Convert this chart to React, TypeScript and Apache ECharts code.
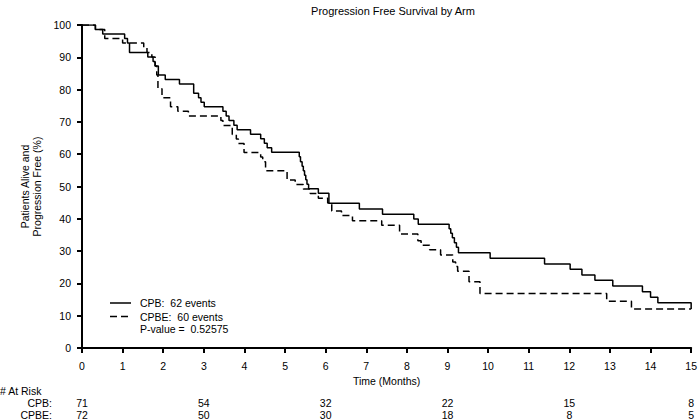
import React, { useEffect, useRef } from "react";
import * as echarts from "echarts";

const chartTitle = "Progression Free Survival by Arm";
const xAxisTitle = "Time (Months)";
const yAxisTitle = "Patients Alive and\nProgression Free (%)";

const seriesNames = ["CPB", "CPBE"];
const eventCounts = [62, 60];
const pValueText = "P-value =  0.52575";

// [time in months, percent progression free]
const cpbCurve: [number, number][] = [
  [0, 100], [0.33, 98.6], [0.51, 97.2], [1.05, 95.8], [1.12, 94.4], [1.17, 91.5],
  [1.62, 90.1], [1.75, 88.7], [1.8, 87.3], [1.88, 84.5], [2.05, 83.1], [2.4, 81.7],
  [2.75, 78.9], [2.87, 77.5], [2.93, 76.1], [3.01, 74.7], [3.47, 73.3], [3.55, 71.8],
  [3.62, 70.4], [3.74, 69.0], [3.82, 67.6], [4.15, 66.2], [4.4, 64.8], [4.49, 63.4],
  [4.56, 62.0], [4.67, 60.6], [5.35, 59.2], [5.38, 57.7], [5.42, 56.3], [5.45, 54.9],
  [5.48, 53.5], [5.51, 52.1], [5.54, 50.7], [5.58, 49.3], [5.82, 47.9], [6.08, 44.8],
  [6.83, 43.0], [7.4, 41.4], [8.17, 39.9], [8.28, 38.3], [9.04, 36.9], [9.08, 35.5],
  [9.12, 34.1], [9.17, 32.6], [9.22, 31.2], [9.27, 29.5], [10.05, 27.8], [11.39, 26.0],
  [12.02, 24.4], [12.31, 22.6], [12.63, 21.0], [13.07, 19.2], [13.8, 17.4], [14.0, 15.7],
  [14.18, 14.0], [15.0, 12.1],
];

const cpbeCurve: [number, number][] = [
  [0, 100], [0.33, 98.6], [0.56, 95.8], [1.0, 94.4], [1.52, 92.9], [1.6, 91.5],
  [1.72, 90.1], [1.8, 87.3], [1.84, 84.5], [1.87, 80.3], [1.97, 77.5], [2.18, 74.7],
  [2.36, 73.3], [2.62, 71.8], [3.42, 70.4], [3.47, 68.9], [3.7, 66.1], [3.8, 64.7],
  [3.85, 63.3], [3.99, 60.5], [4.4, 59.1], [4.45, 57.7], [4.52, 54.9], [5.05, 52.0],
  [5.25, 50.6], [5.45, 49.2], [5.62, 47.8], [5.82, 46.4], [6.05, 44.9], [6.15, 42.4],
  [6.39, 41.0], [6.66, 39.4], [7.38, 38.0], [7.82, 35.3], [8.27, 33.2], [8.35, 31.8],
  [8.56, 30.4], [8.83, 28.8], [9.13, 26.6], [9.2, 25.2], [9.25, 23.8], [9.53, 20.5],
  [9.8, 16.9], [12.92, 14.5], [13.53, 12.1], [15.0, 12.1],
];

const atRiskTitle = "# At Risk";
const atRiskTimes = [0, 3, 6, 9, 12, 15];
const cpbAtRisk = [71, 54, 32, 22, 15, 8];
const cpbeAtRisk = [72, 50, 30, 18, 8, 5];

const FONT = "'Liberation Sans', Arial, Helvetica, sans-serif";
const FS = 10.5;
const DASH = [7, 4];

export default function App() {
  const ref = useRef<HTMLDivElement>(null);

  useEffect(() => {
    const chart = echarts.init(ref.current!, null, { renderer: "svg" });
    const axisCommon = {
      axisLine: { show: true, lineStyle: { color: "#000", width: 2 } },
      axisTick: { show: true, length: 5, lineStyle: { color: "#000", width: 2 } },
      splitLine: { show: false },
      axisLabel: { color: "#000", fontSize: FS, fontFamily: FONT },
      nameTextStyle: { color: "#000", fontSize: FS, fontFamily: FONT },
    };
    chart.setOption({
      animation: false,
      backgroundColor: "#fff",
      title: {
        text: chartTitle,
        left: 388,
        textAlign: "center",
        top: 0,
        textStyle: { color: "#000", fontSize: 11, fontWeight: "normal", fontFamily: FONT },
      },
      grid: { left: 82, right: 6, top: 25, bottom: 72 },
      xAxis: {
        type: "value",
        min: 0,
        max: 15,
        interval: 1,
        name: xAxisTitle,
        nameLocation: "middle",
        nameGap: 25,
        ...axisCommon,
        axisLabel: { ...axisCommon.axisLabel, margin: 12 },
      },
      yAxis: {
        type: "value",
        min: 0,
        max: 100,
        interval: 10,
        name: yAxisTitle,
        nameLocation: "middle",
        nameGap: 38,
        ...axisCommon,
        axisLabel: { ...axisCommon.axisLabel, margin: 11 },
        nameTextStyle: { ...axisCommon.nameTextStyle, lineHeight: 12 },
      },
      series: [
        {
          name: seriesNames[0],
          type: "line",
          step: "end",
          symbol: "none",
          data: cpbCurve,
          lineStyle: { color: "#000", width: 1.5, type: "solid" },
          itemStyle: { color: "#000" },
        },
        {
          name: seriesNames[1],
          type: "line",
          step: "end",
          symbol: "none",
          data: cpbeCurve,
          lineStyle: { color: "#000", width: 1.5, type: DASH },
          itemStyle: { color: "#000" },
        },
      ],
    });

    const textStyle = { fill: "#000", fontSize: FS, fontFamily: FONT };
    const legendY = [303, 316.5];
    const graphics: any[] = [];
    seriesNames.forEach((name, i) => {
      graphics.push({
        type: "line",
        shape: { x1: 110, y1: legendY[i], x2: 131, y2: legendY[i] },
        style: { stroke: "#000", lineWidth: 1.5, lineDash: i === 1 ? DASH : null },
      });
      graphics.push({
        type: "text",
        x: 140,
        y: legendY[i],
        style: { ...textStyle, text: `${name}:  ${eventCounts[i]} events`, verticalAlign: "middle", align: "left" },
      });
    });
    graphics.push({
      type: "text",
      x: 140,
      y: 328.5,
      style: { ...textStyle, text: pValueText, verticalAlign: "middle", align: "left" },
    });
    graphics.push({
      type: "text",
      x: 0,
      y: 391,
      style: { ...textStyle, text: atRiskTitle, verticalAlign: "middle", align: "left" },
    });
    graphics.push({
      type: "text",
      x: 52,
      y: 403,
      style: { ...textStyle, text: seriesNames[0] + ":", verticalAlign: "middle", align: "right" },
    });
    graphics.push({
      type: "text",
      x: 52,
      y: 415,
      style: { ...textStyle, text: seriesNames[1] + ":", verticalAlign: "middle", align: "right" },
    });
    atRiskTimes.forEach((t, i) => {
      const px = chart.convertToPixel({ xAxisIndex: 0 }, t) as number;
      graphics.push({
        type: "text",
        x: px,
        y: 403,
        style: { ...textStyle, text: String(cpbAtRisk[i]), align: "center", verticalAlign: "middle" },
      });
      graphics.push({
        type: "text",
        x: px,
        y: 415,
        style: { ...textStyle, text: String(cpbeAtRisk[i]), align: "center", verticalAlign: "middle" },
      });
    });
    chart.setOption({ graphic: graphics });

    return () => chart.dispose();
  }, []);

  return (
    <div
      ref={ref}
      style={{ position: "fixed", left: 0, top: 0, width: 700, height: 420 }}
    />
  );
}
